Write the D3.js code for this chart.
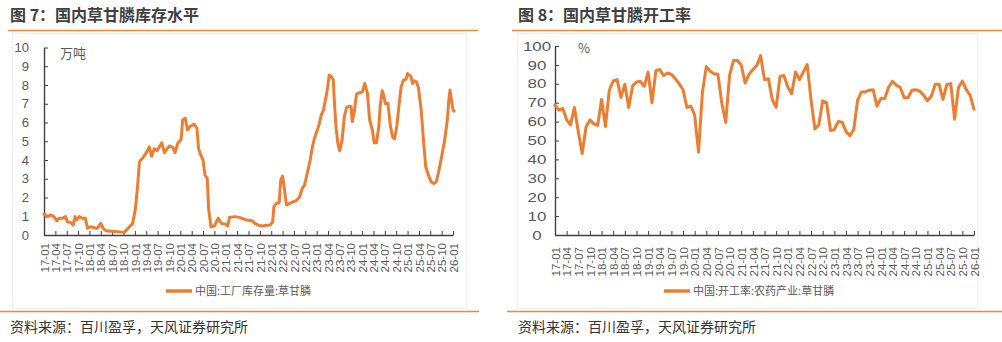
<!DOCTYPE html>
<html><head><meta charset="utf-8">
<script src="https://cdn.jsdelivr.net/npm/d3@7"></script>
<style>
html,body{margin:0;padding:0;background:#fff;}
svg{display:block;}
</style></head>
<body>
<svg id="c" width="1002" height="342"></svg>
<script>
// ---------- DATA ----------
const tickLabels = ["17-01","17-04","17-07","17-10","18-01","18-04","18-07","18-10",
  "19-01","19-04","19-07","19-10","20-01","20-04","20-07","20-10",
  "21-01","21-04","21-07","21-10","22-01","22-04","22-07","22-10",
  "23-01","23-04","23-07","23-10","24-01","24-04","24-07","24-10",
  "25-01","25-04","25-07","25-10","26-01"];
// months since 2017-01 for each tick label
const tickMonths = [0,3,6,9,12,15,18,21,24,27,30,33,36,39,42,45,48,51,54,57,60,63,66,69,72,75,78,81,84,87,90,93,96,99,102,105,108];

// Left chart: 中国:工厂库存量:草甘膦 (万吨), x in months since 2017-01
const stockT = [0,0.9,1.8,2.6,3.4,4.0,4.9,5.7,6.2,7.1,7.7,8.2,8.6,9.3,10.1,10.9,11.5,12.4,13.2,14.1,15.0,15.6,16.3,17.7,19.4,21.2,22.2,23.4,24.1,24.7,25.2,26.0,26.9,27.8,28.4,29.1,29.8,30.4,31.1,31.8,32.5,33.1,34.0,34.6,35.3,36.2,36.6,37.3,37.9,38.6,39.7,40.4,40.8,41.3,42.0,42.5,43.1,43.5,44.1,45.0,46.0,46.8,47.8,48.5,49.0,50.3,51.6,53.0,
  53.6,54.9,55.7,56.6,57.5,58.8,59.7,60.4,60.7,61.4,62.1,62.5,63.0,63.4,64.0,64.9,65.9,66.6,67.5,68.2,68.8,69.5,70.3,70.8,71.4,72.0,72.6,73.2,73.8,74.3,74.8,75.3,75.9,76.4,76.7,77.1,77.6,78.1,78.7,79.3,79.9,80.6,81.1,81.4,82.0,82.5,83.2,84.1,84.7,85.4,86.0,86.7,87.2,87.8,88.4,88.8,89.3,89.8,90.1,90.8,91.5,92.1,92.6,93.2,93.8,94.3,94.9,95.6,96.0,96.4,96.9,97.3,97.8,98.4,98.9,99.6,100.2,100.8,101.5,102.2,102.9,103.6,104.3,105.0,105.8,106.5,106.9,107.2,107.6,108.0,108.3];
const stockV = [1.12,0.98,1.07,0.98,0.76,0.9,0.9,0.98,0.7,0.66,0.53,0.98,0.8,0.98,0.9,0.9,0.36,0.44,0.39,0.36,0.62,0.36,0.23,0.2,0.18,0.14,0.36,0.62,1.33,2.58,3.9,4.09,4.35,4.7,4.2,4.6,4.5,4.67,4.92,4.39,4.6,4.74,4.67,4.39,4.88,5.1,6.13,6.22,5.6,5.8,5.91,5.68,4.62,4.3,4.0,3.2,3.02,1.33,0.44,0.48,0.9,0.62,0.59,0.48,0.94,0.98,0.94,0.83,
  0.8,0.76,0.62,0.52,0.48,0.52,0.53,0.71,1.51,1.69,1.72,2.93,3.14,2.58,1.6,1.69,1.78,1.83,2.04,2.49,2.66,3.29,4.0,4.62,5.15,5.51,5.86,6.39,6.66,7.19,7.73,8.53,8.44,8.26,7.02,5.77,4.88,4.49,5.06,6.3,6.8,6.87,6.84,6.04,6.66,7.51,7.58,7.64,8.08,7.55,6.13,5.6,4.92,4.92,5.77,6.93,7.69,7.37,7.02,7.02,5.77,5.2,5.13,5.86,7.02,7.9,8.26,8.3,8.61,8.53,8.47,8.08,8.22,8.17,7.82,6.66,5.06,3.64,3.2,2.84,2.75,2.84,3.46,4.17,5.06,6.13,7.19,7.73,7.19,6.66,6.61];

// Right chart: 中国:开工率:农药产业:草甘膦 (%), monthly 2017-01 .. 2026-01
const rateV = [68.7,66.1,67.0,60.9,58.3,67.5,54.8,43.1,57.1,60.9,58.8,58.0,
  71.7,57.4,76.6,81.5,82.2,72.8,79.8,67.5,78.7,81.0,81.3,78.7,
  86.2,70.0,87.0,87.6,84.4,85.7,85.0,82.7,80.1,77.0,67.5,68.2,
  63.5,43.8,75.6,89.1,86.7,85.3,85.0,69.7,59.6,84.5,92.3,92.3,
  90.0,80.4,85.0,87.5,89.7,94.9,82.2,82.7,71.7,67.5,83.9,84.4,
  78.3,74.8,86.2,82.2,86.2,90.2,71.4,56.1,58.3,71.0,70.0,55.3,
  55.7,60.0,59.7,54.8,52.5,55.7,71.4,75.7,75.7,76.6,76.9,68.2,
  72.2,72.2,78.3,81.3,79.2,78.0,72.6,72.6,76.6,76.9,76.1,74.0,
  71.0,73.4,79.7,79.7,71.7,79.7,80.1,61.3,78.0,81.5,76.9,74.0,
  66.5];
const rateT = rateV.map((d,i)=>i);

const leftYTicks = [0,1,2,3,4,5,6,7,8,9,10];
const rightYTicks = [0,10,20,30,40,50,60,70,80,90,100];

// ---------- STYLE ----------
const ORANGE = "#ED7D31";
const DIV = "#F0883A";
const AXIS = "#404040";
const LBL = "#595959";
const NUMFONT = "'Liberation Sans', Arial, sans-serif";
const CJK = "'Noto Sans CJK SC', 'Noto Sans', sans-serif";

const svg = d3.select("#c");

function panel(o){
  const g = svg.append("g");
  // frame
  g.append("rect").attr("x",o.box[0]+0.5).attr("y",o.box[1]+0.5)
    .attr("width",o.box[2]-o.box[0]).attr("height",o.box[3]-o.box[1])
    .attr("fill","none").attr("stroke","#efefef").attr("stroke-width",1);
  // title
  g.append("text").attr("x",o.titleX).attr("y",21).text(o.title)
    .attr("font-family",CJK).attr("font-size",16).attr("font-weight","bold").attr("fill","#404040");
  // dividers
  g.append("line").attr("x1",o.divTop[0]).attr("x2",o.divTop[1]).attr("y1",30.5).attr("y2",30.5)
    .attr("stroke",DIV).attr("stroke-width",1.6);
  g.append("line").attr("x1",o.divBot[0]).attr("x2",o.divBot[1]).attr("y1",311.5).attr("y2",311.5)
    .attr("stroke",DIV).attr("stroke-width",1.6);
  // source
  g.append("text").attr("x",o.titleX).attr("y",332).text("资料来源：百川盈孚，天风证券研究所")
    .attr("font-family",CJK).attr("font-size",14).attr("fill","#333");

  const x = d3.scaleLinear().domain([0,108]).range(o.xr);
  const y = d3.scaleLinear().domain(o.yd).range(o.yr);

  // x axis
  const xa = g.append("g").attr("transform",`translate(0,${o.yr[0]})`)
    .call(d3.axisBottom(x).tickValues(tickMonths).tickFormat((d,i)=>tickLabels[i])
      .tickSizeInner(-4).tickSizeOuter(0));
  xa.select(".domain").attr("stroke",AXIS).attr("stroke-width",1.4);
  xa.selectAll(".tick line").attr("stroke",AXIS).attr("stroke-width",1);
  xa.selectAll("text").attr("transform","rotate(-90)").attr("text-anchor","end")
    .attr("x",-o.xlabOff).attr("y",0).attr("dy","0.36em")
    .attr("font-family",NUMFONT).attr("font-size",11.5).attr("fill",LBL);

  // y axis
  const ya = g.append("g").attr("transform",`translate(${o.xr[0]},0)`)
    .call(d3.axisLeft(y).tickValues(o.yticks).tickSizeInner(-4).tickSizeOuter(0).tickPadding(15));
  ya.select(".domain").attr("stroke",AXIS).attr("stroke-width",1.4);
  ya.selectAll(".tick line").attr("stroke",AXIS).attr("stroke-width",1);
  ya.selectAll("text").attr("font-family",NUMFONT).attr("font-size",13).attr("fill",LBL);
  if(o.centerY){
    ya.selectAll("text").attr("text-anchor","middle").attr("x",0)
      .attr("transform",`translate(${o.centerY},0) scale(1.3,1)`);
  }

  // unit
  g.append("text").attr("x",o.unitX).attr("y",o.unitY).text(o.unit)
    .attr("font-family",CJK).attr("font-size",13).attr("fill",LBL);

  // line
  const line = d3.line().x(d=>x(d[0])).y(d=>y(d[1]));
  g.append("path").datum(o.t.map((t,i)=>[t,o.v[i]]))
    .attr("d",line).attr("fill","none").attr("stroke",ORANGE)
    .attr("stroke-width",3).attr("stroke-linejoin","round").attr("stroke-linecap","round");

  // legend
  g.append("line").attr("x1",o.legX).attr("x2",o.legX+26).attr("y1",291).attr("y2",291)
    .attr("stroke",ORANGE).attr("stroke-width",3.5);
  g.append("text").attr("x",o.legX+29).attr("y",295).text(o.legend)
    .attr("font-family",CJK).attr("font-size",11).attr("fill",LBL);
}

panel({
  box:[12,33,466,308], title:"图 7：国内草甘膦库存水平", titleX:10,
  divTop:[8,478], divBot:[0,479],
  xr:[44,453], yd:[0,10], yr:[235,47.5], yticks:leftYTicks,
  xlabOff:8, unit:"万吨", unitX:60, unitY:58,
  t:stockT, v:stockV, legX:166, legend:"中国:工厂库存量:草甘膦"
});
panel({
  box:[517,33,977,308], title:"图 8：国内草甘膦开工率", titleX:518,
  divTop:[512,1002], divBot:[507,1002],
  xr:[555,974], yd:[0,100], yr:[235,46], yticks:rightYTicks, centerY:-18,
  xlabOff:12, unit:"%", unitX:578, unitY:53,
  t:rateT, v:rateV, legX:664, legend:"中国:开工率:农药产业:草甘膦"
});
</script>
</body></html>
